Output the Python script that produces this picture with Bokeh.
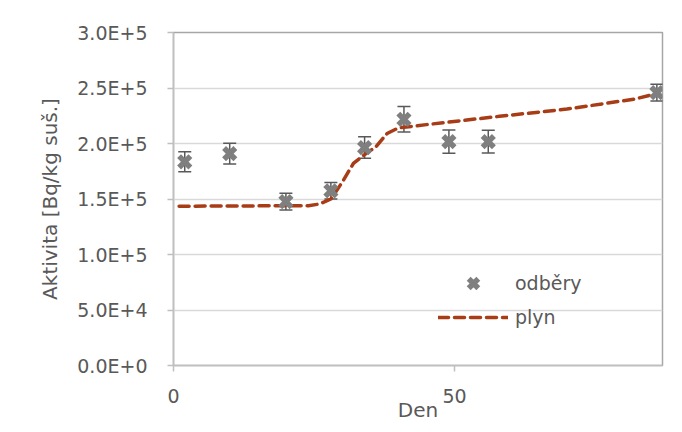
from bokeh.plotting import figure
from bokeh.models import ColumnDataSource, Whisker, FixedTicker, Range1d, Legend, LegendItem
from bokeh.embed import file_html
from bokeh.resources import INLINE

# --- data ---
den_odbery = [2, 10, 20, 28, 34, 41, 49, 56, 86]
aktivita_odbery = [183500, 190900, 147700, 157400, 196300, 221800, 201700, 201700, 245800]
chyba_odbery = [9000, 9400, 7500, 7500, 9700, 11500, 10500, 10300, 7500]

den_plyn = [1, 24, 26, 28, 30, 32, 34, 36, 38, 40, 45, 58, 70, 82, 86]
aktivita_plyn = [143500, 144000, 145500, 150000, 165000, 182000, 190000, 197000, 209000,
                 214000, 217000, 224500, 231000, 240000, 245000]

y_ticks = [0, 50000, 100000, 150000, 200000, 250000, 300000]
y_tick_labels = ["0.0E+0", "5.0E+4", "1.0E+5", "1.5E+5", "2.0E+5", "2.5E+5", "3.0E+5"]
x_ticks = [0, 50]
x_tick_labels = ["0", "50"]

FONT = "DejaVu Sans"
TXT = "#595959"

p = figure(width=674, height=424, output_backend="svg", toolbar_location=None,
           x_range=Range1d(0, 87), y_range=Range1d(0, 300000),
           min_border_left=173, min_border_right=12, min_border_top=32, min_border_bottom=59)
p.background_fill_color = "white"
p.border_fill_color = "white"
p.outline_line_color = "#a6a6a6"
p.outline_line_width = 1.5

# grid
p.xgrid.grid_line_color = None
p.ygrid.grid_line_color = "#d9d9d9"
p.ygrid.grid_line_width = 1.5

# axes
p.yaxis.ticker = FixedTicker(ticks=y_ticks)
p.yaxis.major_label_overrides = {t: l for t, l in zip(y_ticks, y_tick_labels)}
p.xaxis.ticker = FixedTicker(ticks=x_ticks)
p.xaxis.major_label_overrides = {t: l for t, l in zip(x_ticks, x_tick_labels)}
for ax in (p.xaxis[0], p.yaxis[0]):
    ax.axis_line_color = "#bfbfbf"
    ax.axis_line_width = 1.5
    ax.major_tick_line_color = "#bfbfbf"
    ax.major_tick_line_width = 1.5
    ax.major_tick_out = 6
    ax.major_tick_in = 0
    ax.minor_tick_line_color = None
    ax.major_label_text_font = FONT
    ax.major_label_text_font_size = "19px"
    ax.major_label_text_color = TXT
    ax.axis_label_text_font = FONT
    ax.axis_label_text_font_size = "20px"
    ax.axis_label_text_color = TXT
    ax.axis_label_text_font_style = "normal"

p.xaxis.axis_label = "Den"
p.xaxis.major_label_standoff = 17
p.xaxis.axis_label_standoff = -8
p.yaxis.axis_label = "Aktivita [Bq/kg suš.]"
p.yaxis.major_label_standoff = 20
p.yaxis.axis_label_standoff = 12

# gas model line
src_plyn = ColumnDataSource(dict(x=den_plyn, y=aktivita_plyn))
r_line = p.line("x", "y", source=src_plyn, line_color="#A83C17", line_width=3.5,
                line_dash="10 6", line_cap="round")

# measured samples with error bars
lower = [v - e for v, e in zip(aktivita_odbery, chyba_odbery)]
upper = [v + e for v, e in zip(aktivita_odbery, chyba_odbery)]
src_odb = ColumnDataSource(dict(x=den_odbery, y=aktivita_odbery, lower=lower, upper=upper))
wh = Whisker(base="x", lower="lower", upper="upper", source=src_odb,
             line_color="#595959", line_width=1.5)
wh.upper_head.size = 13
wh.lower_head.size = 13
wh.upper_head.line_color = "#595959"
wh.lower_head.line_color = "#595959"
wh.upper_head.line_width = 1.5
wh.lower_head.line_width = 1.5
p.add_layout(wh)
r_pts = p.scatter("x", "y", source=src_odb, marker="x", size=16, line_width=5.5,
                  line_color="#7f7f7f")

legend = Legend(items=[LegendItem(label="odběry", renderers=[r_pts]),
                       LegendItem(label="plyn", renderers=[r_line])],
                location=(265, 31))
legend.background_fill_alpha = 0
legend.border_line_color = None
legend.margin = 0
legend.padding = 0
legend.spacing = 0
legend.glyph_width = 70
legend.glyph_height = 34
legend.label_height = 34
legend.label_standoff = 7
legend.label_text_font = FONT
legend.label_text_font_size = "19px"
legend.label_text_color = TXT
p.add_layout(legend, "center")

open("out.html", "w").write(file_html(p, INLINE))
